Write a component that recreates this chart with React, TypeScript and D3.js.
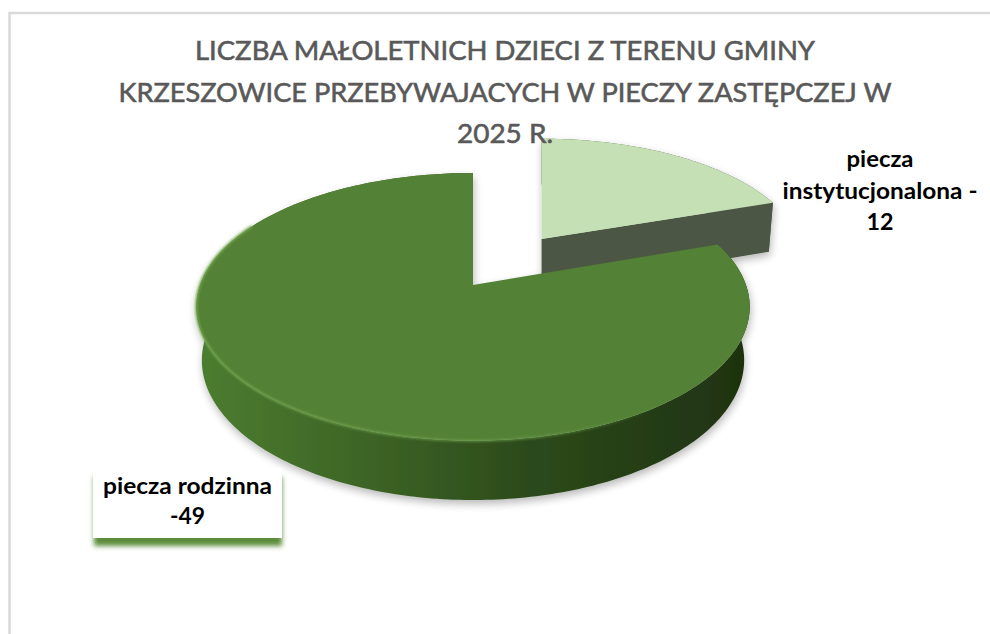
import React from "react";
import * as d3 from "d3";

// ---- data ----
const categories = ["piecza instytucjonalona", "piecza rodzinna"];
const values = [12, 49];
const titleLines = [
  "LICZBA MAŁOLETNICH DZIECI Z TERENU GMINY",
  "KRZESZOWICE PRZEBYWAJACYCH W PIECZY ZASTĘPCZEJ W",
  "2025 R.",
];
const labelLines = [
  ["piecza", "instytucjonalona -", String(values[0])],
  ["piecza rodzinna", "-" + String(values[1])],
];
const explodedIdx = [0];

// ---- layout ----
const W = 990, H = 634;
const cx = 473, cy = 285, K = 273;
const alpha = (28.5 * Math.PI) / 180;
const sinA = Math.sin(alpha), cosA = Math.cos(alpha);
const Dcam = 5.39;
const thick = 0.225;
const explodeDist = 0.46;

const titleLayout = { x: 505, baselines: [60, 101.5, 143], widths: [620, 773, 96], size: 27.5 };
const labelLayout = [
  { x: 880, baselines: [167, 198.5, 230], widths: [67, 195, 27] },
  { x: 187.5, baselines: [493.5, 524], widths: [169, 35] },
];

const den = (v: number, w: number) => 1 + (v * cosA - w * sinA) / Dcam;

function App() {
  const pie = d3.pie<number>().sort(null).value((d) => d)(values);
  const line = d3.line<[number, number]>();

  const slices = pie.map((p, i) => {
    const a0 = p.startAngle, a1 = p.endAngle;
    const mid = (a0 + a1) / 2;
    const e = explodedIdx.includes(i) ? explodeDist : 0;
    const ou = e * Math.sin(mid), ov = e * Math.cos(mid);
    const apexX = cx + (K * ou) / den(ov, 0);
    const P = (u: number, v: number, w: number): [number, number] => [
      apexX + (K * (u - ou)) / den(v, w),
      cy - (K * (v * sinA + w * cosA)) / den(v, w),
    ];
    const n = Math.max(4, Math.ceil(((a1 - a0) * 180) / Math.PI));
    const angs = d3.range(n + 1).map((k) => a0 + ((a1 - a0) * k) / n);
    const rim = (w: number) => angs.map((a) => P(ou + Math.sin(a), ov + Math.cos(a), w));
    const topRim = rim(0);
    const botRim = rim(-thick);
    const apexT = P(ou, ov, 0), apexB = P(ou, ov, -thick);
    const top = line([apexT, ...topRim])! + "Z";
    const band = line([...topRim, ...botRim.slice().reverse()])! + "Z";
    const cam = [ou, -Dcam * cosA, Dcam * sinA];
    const faces: string[] = [];
    [
      { a: a0, nrm: [-Math.cos(a0), Math.sin(a0)] },
      { a: a1, nrm: [Math.cos(a1), -Math.sin(a1)] },
    ].forEach(({ a, nrm }) => {
      const pu = ou + 0.5 * Math.sin(a), pv = ov + 0.5 * Math.cos(a);
      const dot = nrm[0] * (cam[0] - pu) + nrm[1] * (cam[1] - pv);
      if (dot > 0.01) {
        const rt = P(ou + Math.sin(a), ov + Math.cos(a), 0);
        const rb = P(ou + Math.sin(a), ov + Math.cos(a), -thick);
        faces.push(line([apexT, rt, rb, apexB])! + "Z");
      }
    });
    const hiAngs = angs.filter((a) => a > (95 * Math.PI) / 180 && a < (300 * Math.PI) / 180);
    const hi = hiAngs.length > 1 ? line(hiAngs.map((a) => P(ou + Math.sin(a), ov + Math.cos(a), 0))) : null;
    return { i, top, band, faces, hi };
  });

  const topFill = ["#c5e0b4", "#538135"];
  const sideFill = ["#4d5946", "url(#sideGrad)"];
  const faceFill = ["#4b5745", "#3f6626"];
  const order = [0, 1];

  return (
    <svg
      width={W}
      height={H}
      style={{ position: "absolute", left: 0, top: 0, background: "#fff" }}
      fontFamily="Lato, 'Open Sans', sans-serif"
    >
      <defs>
        <linearGradient id="sideGrad" gradientUnits="userSpaceOnUse" x1={196} y1={0} x2={750} y2={0}>
          <stop offset="0" stopColor="#4c7d30" />
          <stop offset="0.3" stopColor="#3d6526" />
          <stop offset="0.6" stopColor="#2c4a1b" />
          <stop offset="1" stopColor="#1e3210" />
        </linearGradient>
        <linearGradient id="hiGrad" gradientUnits="userSpaceOnUse" x1={196} y1={0} x2={750} y2={0}>
          <stop offset="0" stopColor="#72a64e" stopOpacity="0.9" />
          <stop offset="0.6" stopColor="#68994a" stopOpacity="0.7" />
          <stop offset="0.85" stopColor="#68994a" stopOpacity="0" />
        </linearGradient>
        <filter id="pieShadow" x="-20%" y="-20%" width="140%" height="150%">
          <feGaussianBlur in="SourceAlpha" stdDeviation="4" />
          <feOffset dx="1" dy="4" result="b" />
          <feComponentTransfer>
            <feFuncA type="linear" slope="0.28" />
          </feComponentTransfer>
          <feMerge>
            <feMergeNode />
            <feMergeNode in="SourceGraphic" />
          </feMerge>
        </filter>
        <filter id="soft" x="-10%" y="-10%" width="120%" height="120%">
          <feGaussianBlur stdDeviation="0.9" />
        </filter>
        <filter id="boxShadow" x="-20%" y="-30%" width="140%" height="160%">
          <feGaussianBlur stdDeviation="2.5" />
        </filter>
      </defs>

      <rect x={9.5} y={13} width={1000} height={700} fill="#fff" stroke="#d9d9d9" strokeWidth={2.5} />

      <g filter="url(#pieShadow)">
        {order.map((idx) => {
          const s = slices[idx];
          return (
            <g key={idx}>
              <path d={s.band} fill={sideFill[idx]} />
              {s.faces.map((f, j) => (
                <path key={j} d={f} fill={faceFill[idx]} />
              ))}
              <path d={s.top} fill={topFill[idx]} />
              {idx === 1 && s.hi && (
                <path d={s.hi} fill="none" stroke="url(#hiGrad)" strokeWidth={2.5} filter="url(#soft)" />
              )}
            </g>
          );
        })}
      </g>

      {titleLines.map((t, k) => (
        <text
          key={k}
          x={titleLayout.x}
          y={titleLayout.baselines[k]}
          textAnchor="middle"
          fontSize={titleLayout.size}
          fill="#595959"
          stroke="#595959"
          strokeWidth={0.6}
          textLength={titleLayout.widths[k]}
          lengthAdjust="spacingAndGlyphs"
        >
          {t}
        </text>
      ))}

      <rect x={94} y={477} width={188} height={69} fill="#5b8c3a" filter="url(#boxShadow)" />
      <rect x={93} y={468} width={189} height={70} fill="#fff" />

      {labelLines.map((lines, i) =>
        lines.map((t, k) => (
          <text
            key={i + "-" + k}
            x={labelLayout[i].x}
            y={labelLayout[i].baselines[k]}
            textAnchor="middle"
            fontSize={23.5}
            fontWeight={700}
            fill="#000"
            textLength={labelLayout[i].widths[k]}
            lengthAdjust="spacingAndGlyphs"
          >
            {t}
          </text>
        ))
      )}
    </svg>
  );
}

export default App;
